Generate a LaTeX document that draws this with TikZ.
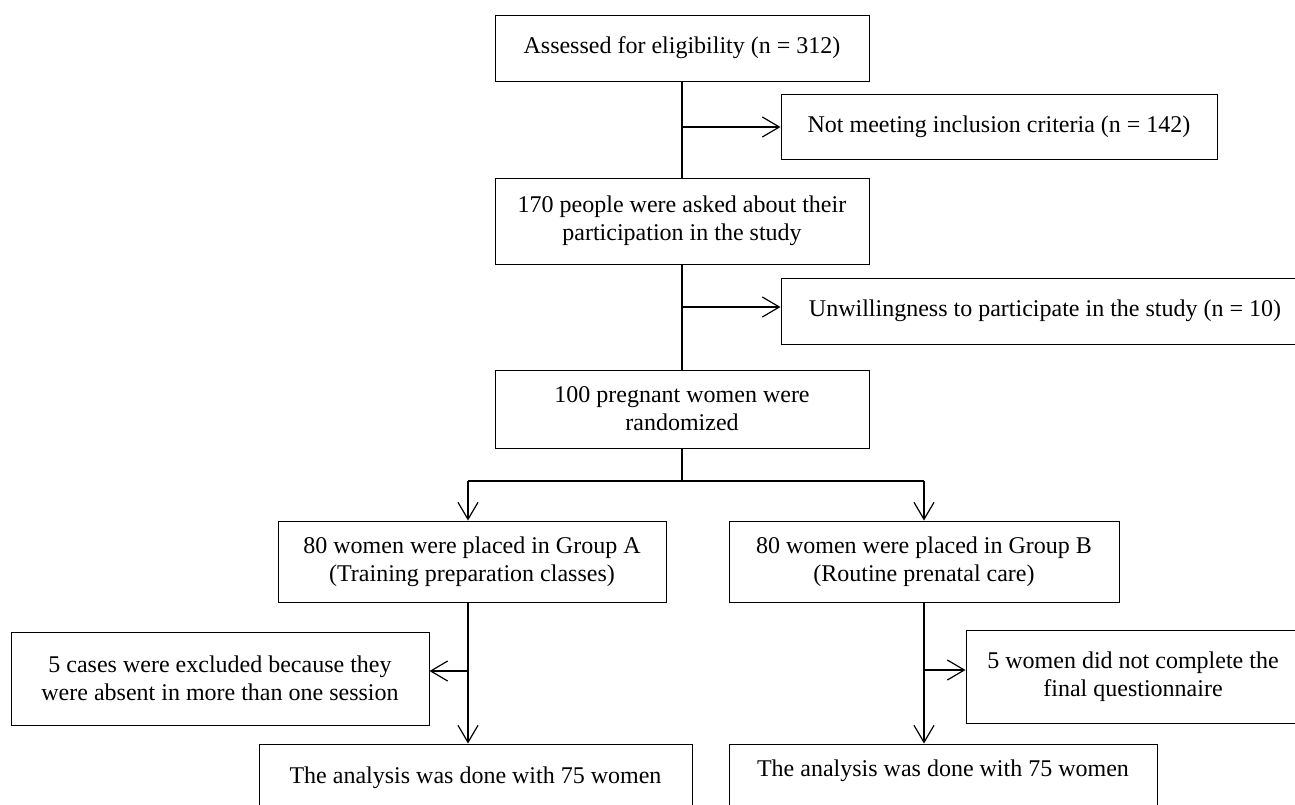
\documentclass[tikz,border=0pt]{standalone}
\usepackage{fontspec}
\setmainfont{Liberation Serif}
\usetikzlibrary{arrows.meta}
\begin{document}
\begin{tikzpicture}[x=1pt,y=1pt,
  box/.style={draw, line width=0.5pt, rectangle, inner sep=0pt, align=center,
              font=\fontsize{12}{14}\selectfont},
  conn/.style={line width=0.6pt},
  arr/.style={conn, -{Straight Barb[length=8.5pt,width=10pt]}}]
\useasboundingbox (0,0) rectangle (647.5,-402);
% boxes
\node[box, minimum width=187pt, minimum height=33pt] (b1) at (341,-24)
  {Assessed for eligibility (n = 312)};
\node[box, minimum width=218pt, minimum height=32.5pt] (b2) at (499.5,-63.25)
  {Not meeting inclusion criteria (n = 142)};
\node[box, minimum width=187pt, minimum height=43pt] (b3) at (341,-110.5)
  {170 people were asked about their\\participation in the study};
\node[box, minimum width=264pt, minimum height=33pt] (b4) at (522.5,-155.5)
  {Unwillingness to participate in the study (n = 10)};
\node[box, minimum width=187pt, minimum height=39pt] (b5) at (341,-204.5)
  {100 pregnant women were\\randomized};
\node[box, minimum width=194pt, minimum height=40.5pt] (ga) at (236,-280.75)
  {80 women were placed in Group A\\(Training preparation classes)};
\node[box, minimum width=195pt, minimum height=40.5pt] (gb) at (462,-280.75)
  {80 women were placed in Group B\\(Routine prenatal care)};
\node[box, minimum width=209pt, minimum height=46.5pt] (exa) at (110,-339.25)
  {5 cases were excluded because they\\were absent in more than one session};
\node[box, minimum width=167pt, minimum height=46.5pt] (exb) at (566.5,-338.25)
  {5 women did not complete the\\final questionnaire};
\node[box, minimum width=216.5pt, minimum height=34pt] (ana) at (237.75,-389)
  {The analysis was done with 75 women};
\node[box, minimum width=214pt, minimum height=34pt] (anb) at (471.5,-389)
  {\raisebox{10pt}{The analysis was done with 75 women}};
% junction points
\coordinate (j1) at (341,-63.5);
\coordinate (j2) at (341,-153.5);
\coordinate (j3) at (341,-240.5);
\coordinate (jl) at (234,-240.5);
\coordinate (jr) at (462,-240.5);
\coordinate (ja) at (234,-335.5);
\coordinate (jb) at (462,-335);
% connectors
\draw[conn] (b1.south) -- (b3.north);
\draw[arr] (j1) -- (j1 -| b2.west);
\draw[conn] (b3.south) -- (b5.north);
\draw[arr] (j2) -- (j2 -| b4.west);
\draw[conn] (b5.south) -- (j3);
\draw[conn] (jl) -- (jr);
\draw[arr] (jl) -- (jl |- ga.north);
\draw[arr] (jr) -- (jr |- gb.north);
\draw[arr] (ja |- ga.south) -- (ja |- ana.north);
\draw[arr] (ja) -- (ja -| exa.east);
\draw[arr] (jb |- gb.south) -- (jb |- anb.north);
\draw[arr] (jb) -- (jb -| exb.west);
\end{tikzpicture}
\end{document}
